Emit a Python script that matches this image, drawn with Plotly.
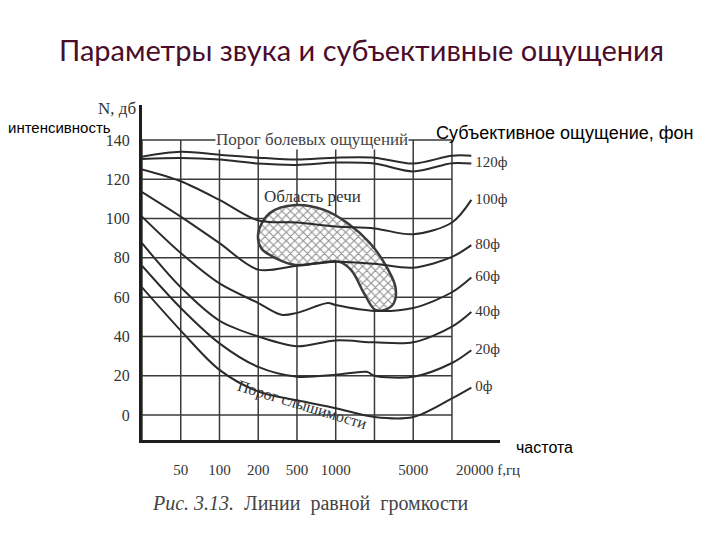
import plotly.graph_objects as go

# ---------------- data ----------------
freq_pos = [0, 1, 2, 3, 4, 5, 6, 7, 8, 8.5]
x_tickvals = [1, 2, 3, 4, 5, 7, 8.93]
x_ticktext = ["50", "100", "200", "500", "1000", "5000", "20000 f,гц"]
y_ticks = [0, 20, 40, 60, 80, 100, 120, 140]
grid_x = [0, 1, 2, 3, 4, 5, 6, 7, 8]

pain = [131.5, 134, 132.5, 131, 130, 131, 131, 128, 132, 132]
phon120 = [130.3, 130.8, 130, 128, 127.3, 128.5, 128, 124, 128.2, 128]
phon100 = [125, 119, 109.5, 99, 98, 96, 95, 92, 98, 109.5]
phon80 = [113.5, 101, 87.5, 74, 76, 78, 77, 75, 80.5, 86.5]
phon60_x = [0, 1, 2, 3, 3.6, 4, 4.8, 5, 6, 7, 8, 8.5]
phon60 = [101, 82.5, 67, 57, 51, 52, 57, 56, 53, 54.5, 62.5, 70]
phon40 = [87.5, 65, 48, 40, 35, 38, 37, 37, 45, 52.5]
phon20_x = [0, 1, 2, 3, 4, 5, 5.8, 6, 7, 8, 8.5]
phon20 = [76, 54.5, 36.5, 24.5, 19.5, 20.5, 22, 20, 19.5, 26.5, 33]
phon0 = [65, 43, 23, 12, 7.5, 3.5, -1, -1, 8.5, 14]

phon_labels = ["120ф", "100ф", "80ф", "60ф", "40ф", "20ф", "0ф"]

speech_x = [3.0, 3.29, 3.96, 4.70, 5.31, 5.89, 6.26, 6.54, 6.50, 6.26, 6.02,
            5.73, 5.40, 5.07, 4.51, 3.96, 3.46, 3.08, 3.0]
speech_y = [92.5, 102.7, 106.9, 104.4, 97.6, 87.4, 77.2, 65.3, 56.9, 53.5, 53.5,
            62, 73.8, 78.1, 77.2, 76.4, 79.8, 84.9, 92.5]

# ---------------- layout geometry ----------------
X0, X1 = 142, 500   # plot area in pixels
Y0, Y1 = 105, 440
XR = [0, 9.24]
YR = [-12.7, 157.8]


def px(x):
    return (x - X0) / (X1 - X0)


def py(y):
    return (Y1 - y) / (Y1 - Y0)


LINE = "#2b2b2b"
GRID = "#3a3a3a"
SERIF = "Liberation Serif, DejaVu Serif, serif"
SANS = "Liberation Sans, Arial, sans-serif"

fig = go.Figure()

# grid: verticals
gx, gy = [], []
for g in grid_x:
    gx += [g, g, None]
    gy += [YR[0], 140, None]
fig.add_trace(go.Scatter(x=gx, y=gy, mode="lines",
                         line=dict(color=GRID, width=1.5), hoverinfo="skip"))
# grid: horizontals
hx, hy = [], []
for t in y_ticks:
    hx += [0, 8, None]
    hy += [t, t, None]
fig.add_trace(go.Scatter(x=hx, y=hy, mode="lines",
                         line=dict(color=GRID, width=1.5), hoverinfo="skip"))

# speech area
fig.add_trace(go.Scatter(
    x=speech_x, y=speech_y, mode="lines", fill="toself",
    line=dict(color="#3c3c3c", width=2.5, shape="spline", smoothing=1.0),
    fillcolor="rgba(0,0,0,0)",
    fillpattern=dict(shape="x", fgcolor="#222222", bgcolor="white",
                     size=6, solidity=0.35),
    hoverinfo="skip"))

curves = [
    (freq_pos, pain),
    (freq_pos, phon120),
    (freq_pos, phon100),
    (freq_pos, phon80),
    (phon60_x, phon60),
    (freq_pos, phon40),
    (phon20_x, phon20),
    (freq_pos, phon0),
]
for cx, cy in curves:
    fig.add_trace(go.Scatter(x=cx, y=cy, mode="lines", cliponaxis=False,
                             line=dict(color=LINE, width=2, shape="spline",
                                       smoothing=0.9),
                             hoverinfo="skip"))

# phon labels at curve ends
ends = [phon120[-1], phon100[-1], phon80[-1], phon60[-1], phon40[-1],
        phon20[-1], phon0[-1]]
fig.add_trace(go.Scatter(x=[8.6] * len(ends), y=ends, mode="text",
                         text=phon_labels, textposition="middle right",
                         cliponaxis=False,
                         textfont=dict(family=SERIF, size=15, color="#333"),
                         hoverinfo="skip"))

fig.update_layout(
    width=720, height=540,
    margin=dict(l=X0, r=720 - X1, t=Y0, b=540 - Y1),
    paper_bgcolor="white", plot_bgcolor="white",
    showlegend=False,
    xaxis=dict(range=XR, showgrid=False, zeroline=False,
               showline=True, linecolor="#1e1e1e", linewidth=3,
               tickmode="array", tickvals=x_tickvals, ticktext=x_ticktext,
               ticks="", ticklabelstandoff=14,
               tickfont=dict(family=SERIF, size=15, color="#333")),
    yaxis=dict(range=YR, showgrid=False, zeroline=False,
               showline=True, linecolor="#1e1e1e", linewidth=3,
               tickmode="array", tickvals=y_ticks,
               ticks="", ticklabelstandoff=6,
               tickfont=dict(family=SERIF, size=16, color="#333")),
)

ann = []
ann.append(dict(text="Параметры звука и субъективные ощущения",
                x=px(361), y=py(50), xref="paper", yref="paper",
                showarrow=False, xanchor="center", yanchor="middle",
                font=dict(family="Lato, Noto Sans, sans-serif", size=29,
                          color="#4a0d2a")))
ann.append(dict(text="N, дб", x=px(117), y=py(108), xref="paper", yref="paper",
                showarrow=False, xanchor="center", yanchor="middle",
                font=dict(family=SERIF, size=17, color="#333")))
ann.append(dict(text="интенсивность", x=px(6), y=py(127), xref="paper",
                yref="paper", showarrow=False, xanchor="left", yanchor="middle",
                font=dict(family=SANS, size=15, color="black")))
ann.append(dict(text="Субъективное ощущение, фон", x=px(434), y=py(133),
                xref="paper", yref="paper", showarrow=False, xanchor="left",
                yanchor="middle", font=dict(family=SANS, size=18, color="black")))
ann.append(dict(text="частота", x=px(514), y=py(447), xref="paper",
                yref="paper", showarrow=False, xanchor="left", yanchor="middle",
                font=dict(family=SANS, size=16, color="black")))
ann.append(dict(text="Порог болевых ощущений", x=4.39, y=140, xref="x",
                yref="y", showarrow=False, xanchor="center", yanchor="middle",
                bgcolor="white", borderpad=0,
                font=dict(family=SERIF, size=17, color="#444")))
ann.append(dict(text="Область речи", x=4.4, y=111, xref="x", yref="y",
                showarrow=False, xanchor="center", yanchor="middle",
                font=dict(family=SERIF, size=17, color="#333")))
ann.append(dict(text="Порог слышимости", x=px(302), y=py(405), xref="paper",
                yref="paper", showarrow=False, xanchor="center",
                yanchor="middle", textangle=17,
                font=dict(family=SERIF, size=16, color="#333")))
ann.append(dict(text="<i>Рис. 3.13.</i>  Линии  равной  громкости",
                x=px(150), y=py(503), xref="paper", yref="paper",
                showarrow=False, xanchor="left", yanchor="middle",
                font=dict(family=SERIF, size=20, color="#444")))
fig.update_layout(annotations=ann)

fig.write_html("out.html", config={"displayModeBar": False},
               post_script="document.body.style.margin='0';")
